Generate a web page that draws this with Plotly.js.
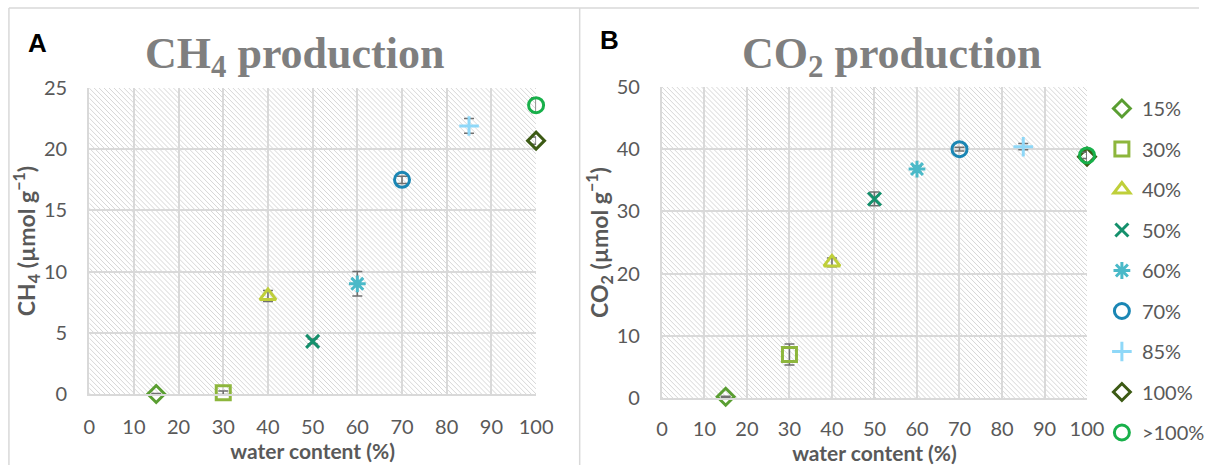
<!DOCTYPE html>
<html>
<head>
<meta charset="utf-8">
<script src="https://cdn.plot.ly/plotly-3.0.1.min.js"></script>
<style>html,body{margin:0;padding:0;background:#fff;}#chart{width:1210px;height:465px;}</style>
</head>
<body>
<div id="chart"></div>
<script>
// ---- data ----
const labels = ['15%', '30%', '40%', '50%', '60%', '70%', '85%', '100%', '>100%'];
const waterX = [15, 30, 40, 50, 60, 70, 85, 100, 100];
const ch4 = [0, 0.1, 8.0, 4.3, 9.0, 17.5, 21.9, 20.7, 23.6];
const ch4Err = [0.05, 0.15, 0.45, 0.2, 1.0, 0.3, 0.6, 0.3, 0.6];
const co2 = [0.2, 7.0, 21.8, 32.0, 36.8, 40.0, 40.4, 38.8, 39.0];
const co2Err = [0.1, 1.7, 0.7, 1.1, 0.5, 0.3, 0.5, 0.8, 0.5];
const xTicks = [0, 10, 20, 30, 40, 50, 60, 70, 80, 90, 100];
const ch4Ticks = [0, 5, 10, 15, 20, 25];
const co2Ticks = [0, 10, 20, 30, 40, 50];

// ---- styles ----
const colors = ['#5a9e32', '#8db63c', '#bfcf3a', '#14906c', '#4ab9c8', '#1a86b4', '#8fd8f8', '#3c5a14', '#18b04a'];
const symbols = ['diamond-open', 'square-open', 'triangle-up-open', 'x-thin-open', 'asterisk-open', 'circle-open', 'cross-thin-open', 'diamond-open', 'circle-open'];
const sizes = [13, 14, 14, 13, 14, 15, 14, 13, 15];

const W = 1210, H = 465;
const A = {l: 90, r: 541, t: 88, b: 394};
const B = {l: 668, r: 1097, t: 87, b: 398};
const px = v => v / W, py = v => 1 - v / H;

function hatch(w, h) {
  const svg = `<svg xmlns="http://www.w3.org/2000/svg" width="${w}" height="${h}"><defs><pattern id="p" patternUnits="userSpaceOnUse" width="5" height="5"><path d="M-1,-1 L6,6 M-1,4 L1,6 M4,-1 L6,1" stroke="#d6d6d6" stroke-width="1"/></pattern></defs><rect width="${w}" height="${h}" fill="#fff"/><rect width="${w}" height="${h}" fill="url(#p)"/></svg>`;
  return 'data:image/svg+xml;base64,' + btoa(svg);
}

const traces = [];
labels.forEach((lab, i) => {
  const mk = {symbol: symbols[i], size: sizes[i], color: colors[i], line: {color: colors[i], width: 3}};
  const eb = (arr) => ({type: 'data', array: [arr[i]], visible: true, color: '#707070', thickness: 1.5, width: 5});
  traces.push({
    type: 'scatter', mode: 'markers', x: [waterX[i]], y: [ch4[i]], xaxis: 'x', yaxis: 'y',
    marker: mk, error_y: eb(ch4Err), showlegend: false, cliponaxis: false, name: lab, legendgroup: 'g' + i
  });
  traces.push({
    type: 'scatter', mode: 'markers', x: [waterX[i]], y: [co2[i]], xaxis: 'x2', yaxis: 'y2',
    marker: mk, error_y: eb(co2Err), showlegend: true, cliponaxis: false, name: lab, legendgroup: 'g' + i
  });
});

const tickFont = {family: 'Lato, sans-serif', size: 20, color: '#595959'};
const xTitleFont = {family: 'Lato, sans-serif', size: 21, color: '#595959'};
const yTitleFont = {family: 'Lato, sans-serif', size: 23, color: '#595959'};
const axBase = {
  showgrid: true, gridcolor: '#d9d9d9', gridwidth: 2, zeroline: false, automargin: false,
  showline: true, linecolor: '#d9d9d9', linewidth: 2, mirror: false,
  ticks: 'outside', tickcolor: 'rgba(0,0,0,0)', tickfont: tickFont, fixedrange: true
};

const layout = {
  width: W, height: H, margin: {l: 0, r: 0, t: 0, b: 0, pad: 0},
  paper_bgcolor: '#fff', plot_bgcolor: 'rgba(0,0,0,0)',
  font: {family: 'Lato, sans-serif', color: '#595959'},
  xaxis: Object.assign({}, axBase, {domain: [px(A.l), px(A.r)], range: [0, 100], tickvals: xTicks, ticklen: 14, anchor: 'y',
    title: {text: '<b>water content (%)</b>', font: xTitleFont, standoff: 0}}),
  yaxis: Object.assign({}, axBase, {domain: [py(A.b), py(A.t)], range: [0, 25], tickvals: ch4Ticks, ticklen: 16, anchor: 'x',
    title: {text: '<b>CH<sub>4</sub> (µmol g<sup>−1</sup>)</b>', font: yTitleFont, standoff: 2}}),
  xaxis2: Object.assign({}, axBase, {domain: [px(B.l), px(B.r)], range: [0, 100], tickvals: xTicks, ticklen: 12, anchor: 'y2',
    title: {text: '<b>water content (%)</b>', font: xTitleFont, standoff: 0}}),
  yaxis2: Object.assign({}, axBase, {domain: [py(B.b), py(B.t)], range: [0, 50], tickvals: co2Ticks, ticklen: 16, anchor: 'x2',
    title: {text: '<b>CO<sub>2</sub> (µmol g<sup>−1</sup>)</b>', font: yTitleFont, standoff: 2}}),
  legend: {x: px(1112), y: py(89), xanchor: 'left', yanchor: 'top', bgcolor: 'rgba(0,0,0,0)',
    font: {family: 'Lato, sans-serif', size: 20, color: '#595959'}, tracegroupgap: 11.5, itemwidth: 30, traceorder: 'grouped'},
  images: [
    {source: hatch(A.r - A.l, A.b - A.t), xref: 'paper', yref: 'paper', x: px(A.l), y: py(A.t), sizex: (A.r - A.l) / W, sizey: (A.b - A.t) / H,
      xanchor: 'left', yanchor: 'top', sizing: 'stretch', layer: 'below'},
    {source: hatch(B.r - B.l, B.b - B.t), xref: 'paper', yref: 'paper', x: px(B.l), y: py(B.t), sizex: (B.r - B.l) / W, sizey: (B.b - B.t) / H,
      xanchor: 'left', yanchor: 'top', sizing: 'stretch', layer: 'below'}
  ],
  shapes: [
    {type: 'line', xref: 'paper', yref: 'paper', x0: px(9), x1: 1, y0: py(8), y1: py(8), line: {color: '#d9d9d9', width: 1.5}},
    {type: 'line', xref: 'paper', yref: 'paper', x0: px(9), x1: px(9), y0: py(8), y1: 0, line: {color: '#d9d9d9', width: 1.5}},
    {type: 'line', xref: 'paper', yref: 'paper', x0: px(585), x1: px(585), y0: py(8), y1: 0, line: {color: '#d9d9d9', width: 1.5}}
  ],
  annotations: [
    {text: '<b>CH<sub>4</sub> production</b>', xref: 'paper', yref: 'paper', x: px(297), y: py(56), showarrow: false,
      font: {family: 'Liberation Serif, serif', size: 44, color: '#7f7f7f'}, xanchor: 'center', yanchor: 'middle'},
    {text: '<b>CO<sub>2</sub> production</b>', xref: 'paper', yref: 'paper', x: px(900), y: py(56), showarrow: false,
      font: {family: 'Liberation Serif, serif', size: 44, color: '#7f7f7f'}, xanchor: 'center', yanchor: 'middle'},
    {text: '<b>A</b>', xref: 'paper', yref: 'paper', x: px(38), y: py(43), showarrow: false,
      font: {family: 'Liberation Sans, sans-serif', size: 26, color: '#000'}, xanchor: 'center', yanchor: 'middle'},
    {text: '<b>B</b>', xref: 'paper', yref: 'paper', x: px(615), y: py(40), showarrow: false,
      font: {family: 'Liberation Sans, sans-serif', size: 26, color: '#000'}, xanchor: 'center', yanchor: 'middle'}
  ]
};

Plotly.newPlot('chart', traces, layout, {displayModeBar: false, staticPlot: true});
</script>
</body>
</html>
